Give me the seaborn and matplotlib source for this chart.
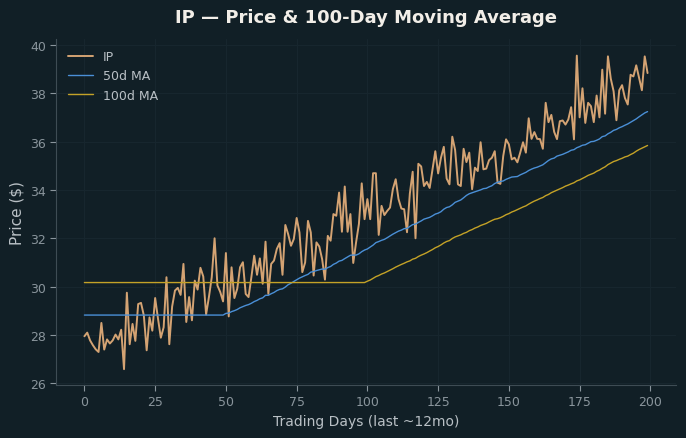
import numpy as np
import pandas as pd
import matplotlib
matplotlib.use("Agg")
import matplotlib.pyplot as plt
import seaborn as sns

ticker = "IP"
price = [
    27.95, 28.10, 27.78, 27.58, 27.41, 27.30, 28.50, 27.40, 27.82, 27.65,
    27.78, 28.02, 27.82, 28.22, 26.59, 29.75, 27.62, 28.46, 27.76, 29.28,
    29.33, 28.81, 27.37, 28.73, 28.18, 29.53, 28.68, 27.89, 28.32, 30.39,
    27.62, 29.18, 29.84, 29.95, 29.66, 30.94, 28.54, 29.57, 28.61, 30.25,
    29.88, 30.78, 30.42, 28.85, 29.57, 30.39, 32.00, 30.05, 29.78, 29.39,
    31.39, 28.77, 30.80, 29.53, 29.91, 30.80, 31.01, 29.70, 29.57, 30.39,
    31.28, 30.49, 31.17, 30.12, 31.86, 29.70, 30.94, 31.08, 31.56, 31.80,
    30.49, 32.55, 32.17, 31.69, 31.97, 32.84, 32.24, 30.60, 31.00, 32.72,
    32.24, 30.46, 31.83, 31.66, 31.14, 30.29, 32.10, 31.90, 33.00, 32.93,
    33.89, 32.27, 34.14, 32.27, 33.00, 30.98, 31.83, 32.59, 34.27, 32.79,
    33.62, 32.79, 34.69, 34.69, 32.14, 33.34, 32.96, 33.13, 33.27, 34.03,
    34.44, 33.62, 33.23, 33.20, 32.25, 33.85, 34.75, 32.00, 35.08, 34.97,
    34.16, 34.33, 34.08, 34.85, 35.60, 34.68, 35.33, 35.78, 34.47, 34.23,
    36.20, 35.65, 34.23, 34.16, 35.70, 35.15, 35.54, 34.03, 34.92, 34.78,
    35.97, 34.85, 34.88, 35.23, 35.33, 35.60, 34.30, 34.25, 35.40, 36.09,
    35.88, 35.26, 35.33, 35.14, 35.54, 35.97, 35.54, 36.96, 36.11, 36.39,
    36.11, 36.10, 35.70, 37.60, 36.80, 37.10, 36.40, 36.10, 36.84, 36.87,
    36.70, 36.91, 37.42, 36.09, 39.55, 37.00, 38.20, 36.77, 37.60, 37.46,
    36.80, 37.90, 37.00, 38.97, 37.15, 39.52, 38.60, 38.08, 36.88, 38.12,
    38.33, 37.80, 37.53, 38.76, 38.69, 39.15, 38.63, 38.12, 39.52, 38.83,
]
ma_windows = [50, 100]
labels = ["IP", "50d MA", "100d MA"]
x_ticks = [0, 25, 50, 75, 100, 125, 150, 175, 200]
y_ticks = [26, 28, 30, 32, 34, 36, 38, 40]

df = pd.DataFrame({"day": np.arange(len(price)), "price": price})
for w in ma_windows:
    df[f"ma{w}"] = df["price"].rolling(w).mean().bfill()

BG = "#111f26"
sns.set_theme(style="dark")
plt.rcParams["font.family"] = ["DejaVu Sans"]

fig, ax = plt.subplots(figsize=(6.86, 4.39), dpi=100)
fig.patch.set_facecolor(BG)
ax.set_facecolor(BG)

sns.lineplot(data=df, x="day", y="price", ax=ax, color="#d4a373", linewidth=1.4, label=labels[0])
sns.lineplot(data=df, x="day", y="ma50", ax=ax, color="#4a8fd6", linewidth=1.0, label=labels[1])
sns.lineplot(data=df, x="day", y="ma100", ax=ax, color="#c4a227", linewidth=1.0, label=labels[2])

ax.set_xticks(x_ticks)
ax.set_yticks(y_ticks)
ax.set_xlim(-9.95, 208.95)
ax.set_ylim(25.94, 40.24)
ax.grid(True, color="#17262e", linewidth=0.8)
for s in ["top", "right"]:
    ax.spines[s].set_visible(False)
for s in ["left", "bottom"]:
    ax.spines[s].set_visible(True)
    ax.spines[s].set_color("#3e4c54")
    ax.spines[s].set_linewidth(0.8)
ax.tick_params(axis="both", colors="#8a959c", labelsize=9, length=4, width=0.8,
               left=True, bottom=True)
ax.set_xlabel("Trading Days (last ~12mo)", color="#b9c0c5", fontsize=10)
ax.set_ylabel("Price ($)", color="#b9c0c5", fontsize=11)
ax.set_title(f"{ticker} \u2014 Price & 100-Day Moving Average", color="#f2eee8",
             fontsize=13, fontweight="bold", pad=12)

leg = ax.legend(loc="upper left", frameon=False, fontsize=9)
for t in leg.get_texts():
    t.set_color("#b9c0c5")

fig.subplots_adjust(left=0.082, right=0.985, top=0.909, bottom=0.121)
fig.savefig("out.png", dpi=100, facecolor=BG)
